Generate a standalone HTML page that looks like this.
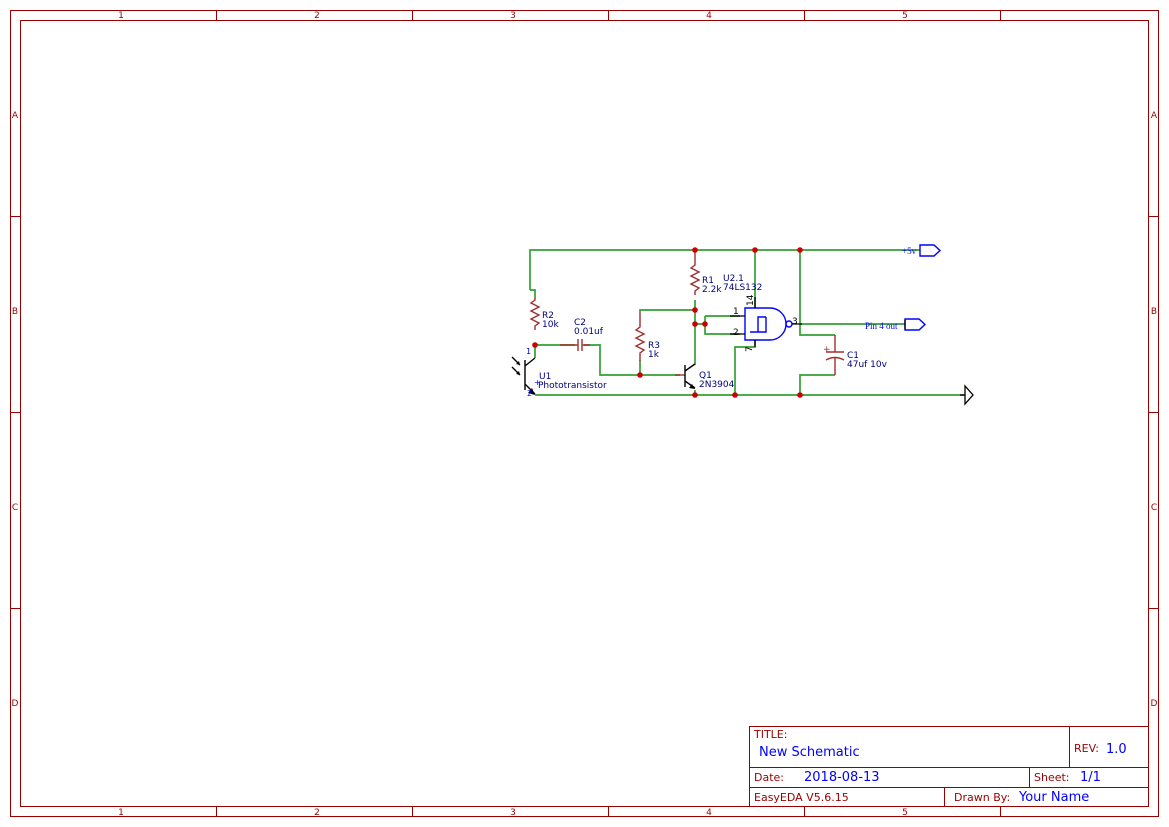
<!DOCTYPE html>
<html><head><meta charset="utf-8"><style>
html,body{margin:0;padding:0;background:#fff;}
svg{display:block;}
text{font-family:"DejaVu Sans","Liberation Sans",sans-serif;}
text.serif{font-family:"Liberation Serif",serif;}
</style></head><body>
<svg width="1169" height="827" viewBox="0 0 1169 827" xmlns="http://www.w3.org/2000/svg">
<g fill="none" stroke="#990000" stroke-width="1">
<rect x="10.5" y="10.5" width="1148" height="806"/>
<rect x="20.5" y="20.5" width="1128" height="786"/>
<path d="M216.5 10v10M412.5 10v10M608.5 10v10M804.5 10v10M1000.5 10v10M216.5 807v10M412.5 807v10M608.5 807v10M804.5 807v10M1000.5 807v10M10 216.5h10M10 412.5h10M10 608.5h10M1149 216.5h10M1149 412.5h10M1149 608.5h10"/>
<rect x="749.5" y="726.5" width="399" height="80"/>
<path d="M749 767.5h400M749 787.5h400M1069.5 726v41M1029.5 767v20M944.5 787v20"/>
</g>
<g fill="#990000" font-size="9" text-anchor="middle">
<text x="121" y="18">1</text><text x="317" y="18">2</text><text x="513" y="18">3</text><text x="709" y="18">4</text><text x="905" y="18">5</text>
<text x="121" y="815">1</text><text x="317" y="815">2</text><text x="513" y="815">3</text><text x="709" y="815">4</text><text x="905" y="815">5</text>
<text x="15" y="118">A</text><text x="15" y="314">B</text><text x="15" y="510">C</text><text x="15" y="706">D</text>
<text x="1154" y="118">A</text><text x="1154" y="314">B</text><text x="1154" y="510">C</text><text x="1154" y="706">D</text>
</g>
<g fill="#990000" font-size="11">
<text x="754" y="738">TITLE:</text>
<text x="1074" y="752">REV:</text>
<text x="754" y="781">Date:</text>
<text x="1034" y="781">Sheet:</text>
<text x="754" y="801">EasyEDA V5.6.15</text>
<text x="954" y="801">Drawn By:</text>
</g>
<g fill="#0000ff" font-size="13">
<text x="759" y="756">New Schematic</text>
<text x="1106" y="753">1.0</text>
<text x="804" y="781">2018-08-13</text>
<text x="1080" y="781">1/1</text>
<text x="1019" y="801">Your Name</text>
</g>
<g fill="none" stroke="#33a033" stroke-width="1.7">
<path d="M530 290V250H920"/>
<path d="M530 290h5v7"/>
<path d="M535 345h40M584 345h16v30h80"/>
<path d="M640 360v15M640 311v-1h55"/>
<path d="M695 300v65M695 390v5"/>
<path d="M695 324h10M705 316h35M705 316v18h35"/>
<path d="M535 358v-13M535 395h430"/>
<path d="M755 250v58M755 340v7h-20v48"/>
<path d="M800 250v85h35M800 395v-20h35"/>
<path d="M800 324h105"/>
</g>
<g fill="none" stroke="#a03030" stroke-width="1.4">
<path d="M535 297v3l-4 3 8 4-8 4 8 4-8 4 8 4-4 3v4"/>
<path d="M695 250v15l-4 3 8 4-8 4 8 4-8 4 8 4-4 3v4"/>
<path d="M640 311v16l-4 3 8 4-8 4 8 4-8 4 8 4-4 3v8"/>
<path d="M560 345h18M578 339v12M582 339v12M582 345h8"/>
<path d="M835 335v17M826 352h18M826 360q9-5 18 0M835 358v17"/>
<path d="M675 375h10"/>
</g>
<text x="823" y="352" fill="#a03030" font-size="9">+</text>
<g fill="none" stroke="#000" stroke-width="1.4">
<path d="M685 365v22M685 371l10-7M685 381l10 7"/>
</g>
<path d="M695 389l-6-1 3-4z" fill="#000"/>
<g fill="none" stroke="#000" stroke-width="1.4">
<path d="M525 360v30M525 366l10-8M525 384l10 10"/>
<path d="M512 357l8 8M512 367l8 8"/>
</g>
<path d="M535 395l-7-2 4-5z" fill="#000"/>
<path d="M520 365l-4-1 3-3zM520 375l-4-1 3-3z" fill="#000"/>
<g fill="#0000ff" font-size="8"><text x="526" y="354">1</text><text x="527" y="396">2</text><text x="534" y="385">+</text></g>
<g fill="none" stroke="#0000ff" stroke-width="1.4">
<path d="M745 308h25a16 16 0 0 1 0 32h-25z"/>
<circle cx="789" cy="324" r="3"/>
<path d="M750 332h8v-15h8M758 332h8v-15"/>
<path d="M920 245h14l6 5.5-6 5.5h-14z"/>
<path d="M905 319h14l6 5.5-6 5.5h-14z"/>
</g>
<g stroke="#000" stroke-width="1.3" fill="none">
<path d="M730 316h15M730 334h15M755 297v11M755 340v7M792 324h10"/>
<path d="M960 395h5M965 386v18l8-9z"/>
<path d="M905 320v9"/>
</g>
<g fill="#000" font-size="9">
<text x="733" y="314">1</text><text x="733" y="335">2</text><text x="792" y="324">3</text>
<text x="753" y="306" transform="rotate(-90 753 306)">14</text>
<text x="752" y="352" transform="rotate(-90 752 352)">7</text>
</g>
<g fill="#cc0000">
<circle cx="695" cy="250" r="2.8"/><circle cx="755" cy="250" r="2.8"/><circle cx="800" cy="250" r="2.8"/>
<circle cx="535" cy="345" r="2.8"/><circle cx="695" cy="310" r="2.8"/><circle cx="695" cy="324" r="2.8"/><circle cx="705" cy="324" r="2.8"/>
<circle cx="640" cy="375" r="2.8"/><circle cx="695" cy="395" r="2.8"/><circle cx="735" cy="395" r="2.8"/><circle cx="800" cy="395" r="2.8"/>
</g>
<g fill="#000080" font-size="9">
<text x="542" y="318">R2</text><text x="542" y="327">10k</text>
<text x="574" y="325">C2</text><text x="574" y="334">0.01uf</text>
<text x="648" y="348">R3</text><text x="648" y="357">1k</text>
<text x="702" y="283">R1</text><text x="702" y="292">2.2k</text>
<text x="723" y="281">U2.1</text><text x="723" y="290">74LS132</text>
<text x="699" y="378">Q1</text><text x="699" y="387">2N3904</text>
<text x="539" y="379">U1</text><text x="538" y="388">Phototransistor</text>
<text x="847" y="358">C1</text><text x="847" y="367">47uf 10v</text>
</g>
<g fill="#0000ff" font-size="9">
<text class="serif" x="902" y="254">+5v</text>
<text class="serif" x="865" y="329">Pin 4 out</text>
</g>
</svg>
</body></html>
